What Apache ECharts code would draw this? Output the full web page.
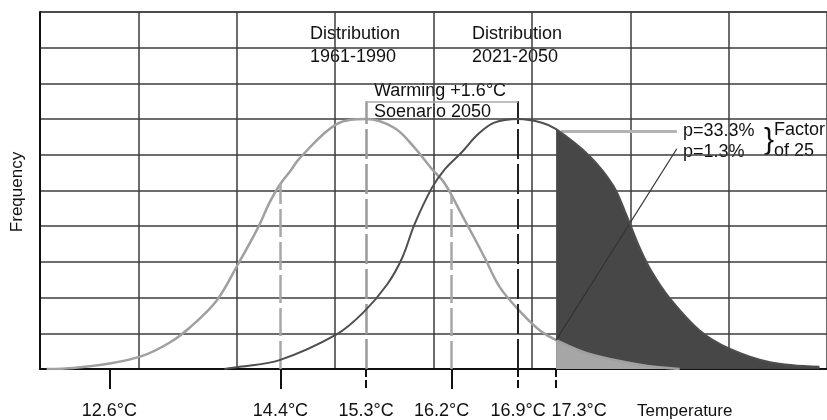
<!DOCTYPE html>
<html>
<head>
<meta charset="utf-8">
<script src="https://cdn.jsdelivr.net/npm/echarts@6/dist/echarts.min.js"></script>
<style>
html,body{margin:0;padding:0;background:#fff;}
#chart{width:827px;height:420px;}
</style>
</head>
<body>
<div id="chart"></div>
<script>
// ---- data ----
const lightT = [11.94, 12.22, 12.57, 12.94, 13.24, 13.45, 13.73, 13.95, 14.16, 14.29, 14.4, 14.5, 14.6, 14.99, 15.3, 15.6, 15.81, 15.99, 16.13, 16.31, 16.44, 16.55, 16.71, 16.95, 17.13, 17.3, 17.65, 18.18, 18.6];
const lightV = [0, 0.03, 0.14, 0.36, 0.75, 1.17, 1.92, 2.92, 3.94, 4.69, 5.19, 5.53, 5.9, 6.86, 7.0, 6.75, 6.2, 5.61, 5.19, 4.31, 3.67, 3.11, 2.28, 1.53, 1.08, 0.81, 0.42, 0.12, 0];
const darkT = [13.81, 13.97, 14.39, 14.99, 15.27, 15.52, 15.68, 15.81, 15.99, 16.13, 16.31, 16.48, 16.65, 16.9, 17.15, 17.3, 17.65, 17.9, 18.04, 18.18, 18.3, 18.49, 18.81, 19.13, 19.55, 20.07];
const darkV = [0, 0.06, 0.25, 0.97, 1.58, 2.36, 3.11, 4.05, 5.06, 5.6, 6.08, 6.58, 6.9, 7.0, 6.9, 6.72, 5.97, 5.14, 4.31, 3.39, 2.75, 2.0, 1.08, 0.56, 0.19, 0.06];
const tickTemps = [12.6, 14.4, 15.3, 16.2, 16.9, 17.3];
const solidTicks = [12.6, 14.4, 16.2];
const dashedTicks = [15.3, 16.9, 17.3];
const meanOld = 15.3, meanNew = 16.9, threshold = 17.3;
const guideTemps = [14.4, 16.2];

// ---- layout constants (not data) ----
const L = { xMin: 11.87, xMax: 20.15, yMax: 10, bracketTop: 7.5, calloutT: 18.57, calloutLow: 6.17 };
const FONT = '"Liberation Sans", Arial, Helvetica, sans-serif';

function pairs(T, V) { return T.map((t, i) => [t, V[i]]); }
function interp(T, V, t) {
  for (let i = 0; i < T.length - 1; i++) {
    if (t >= T[i] && t <= T[i + 1]) {
      const f = (t - T[i]) / (T[i + 1] - T[i]);
      return V[i] + f * (V[i + 1] - V[i]);
    }
  }
  return 0;
}
const lightData = pairs(lightT, lightV);
const darkData = pairs(darkT, darkV);
const darkTail = darkData.filter(p => p[0] >= threshold);
const lightTail = lightData.filter(p => p[0] >= threshold);

const darkAtThr = interp(darkT, darkV, threshold);
const lightAtThr = interp(lightT, lightV, threshold);

function seg(a, b, style) {
  return [{ coord: a, lineStyle: style }, { coord: b }];
}
const guideStyle = { color: '#a8a8a8', width: 2.5, type: [28, 5] };

const markLines = [];
guideTemps.forEach(t => markLines.push(seg([t, 0], [t, interp(lightT, lightV, t)], guideStyle)));
markLines.push(seg([meanOld, 0], [meanOld, L.bracketTop], { color: '#9a9a9a', width: 2.5, type: [30, 5] }));
markLines.push(seg([meanNew, 0], [meanNew, L.bracketTop], { color: '#222', width: 2, type: [30, 5] }));
markLines.push(seg([meanOld, L.bracketTop], [meanNew, L.bracketTop], { color: '#aaa', width: 1.5, type: 'solid' }));
markLines.push(seg([threshold + 0.05, darkAtThr - 0.05], [L.calloutT, darkAtThr - 0.05], { color: '#b3b3b3', width: 3, type: 'solid' }));
markLines.push(seg([threshold, lightAtThr], [L.calloutT, L.calloutLow], { color: '#333', width: 1.2, type: 'solid' }));

const splitColors = [];
for (let i = 0; i <= L.yMax; i++) splitColors.push(i === L.yMax ? '#111' : '#3c3c3c');

const SMOOTH = 0.35;

const chart = echarts.init(document.getElementById('chart'));
chart.setOption({
  animation: false,
  backgroundColor: '#fff',
  grid: { left: 40, right: 0, top: 12, bottom: 48 },
  xAxis: [
    {
      type: 'value', min: L.xMin, max: L.xMax, position: 'bottom',
      axisLine: { show: true, onZero: false, lineStyle: { color: '#111', width: 2 } },
      axisTick: { show: true, inside: false, length: 20, customValues: solidTicks, lineStyle: { color: '#111', width: 2 } },
      axisLabel: {
        show: true, customValues: tickTemps, margin: 33, color: '#111', fontSize: 18, fontFamily: FONT,
        formatter: function (v) {
          const s = v.toFixed(1) + '°C';
          if (Math.abs(v - 17.3) < 1e-6) return '{r|' + s + '}';
          if (Math.abs(v - 16.2) < 1e-6) return '{l|' + s + '}';
          return s;
        },
        rich: {
          r: { fontSize: 18, fontFamily: FONT, color: '#111', padding: [0, 0, 0, 46] },
          l: { fontSize: 18, fontFamily: FONT, color: '#111', padding: [0, 20, 0, 0] }
        }
      },
      splitLine: { show: false }
    },
    {
      type: 'value', min: L.xMin, max: L.xMax, position: 'bottom',
      axisLine: { show: false },
      axisTick: { show: true, inside: false, length: 20, customValues: dashedTicks, lineStyle: { color: '#111', width: 2, type: [8, 3] } },
      axisLabel: { show: false },
      splitLine: { show: false }
    },
    {
      type: 'value', min: 0, max: 8, interval: 1, position: 'bottom',
      axisLine: { show: false }, axisTick: { show: false }, axisLabel: { show: false },
      splitLine: { show: true, lineStyle: { color: '#3c3c3c', width: 1.5 } }
    }
  ],
  yAxis: {
    type: 'value', min: 0, max: L.yMax, interval: 1,
    axisLine: { show: true, lineStyle: { color: '#111', width: 2 } },
    axisTick: { show: false }, axisLabel: { show: false },
    splitLine: { show: true, lineStyle: { color: splitColors, width: 1.5 } }
  },
  series: [
    {
      name: 'fillDark', type: 'line', data: darkTail, smooth: SMOOTH, symbol: 'none', z: 2,
      lineStyle: { width: 0 }, areaStyle: { color: '#474747', opacity: 1 }
    },
    {
      name: 'fillLight', type: 'line', data: lightTail, smooth: SMOOTH, symbol: 'none', z: 3,
      lineStyle: { width: 0 }, areaStyle: { color: '#a6a6a6', opacity: 1 }
    },
    {
      name: '1961-1990', type: 'line', data: lightData, smooth: SMOOTH, symbol: 'none', z: 4,
      lineStyle: { color: '#a0a0a0', width: 2.5 }
    },
    {
      name: '2021-2050', type: 'line', data: darkData, smooth: SMOOTH, symbol: 'none', z: 5,
      lineStyle: { color: '#4e4e4e', width: 2 },
      markLine: { silent: true, symbol: ['none', 'none'], label: { show: false }, animation: false, data: markLines }
    }
  ],
  graphic: [
    { type: 'text', left: 310, top: 25, style: { text: 'Distribution', font: '18px ' + FONT, fill: '#111' } },
    { type: 'text', left: 310, top: 48, style: { text: '1961-1990', font: '18px ' + FONT, fill: '#111' } },
    { type: 'text', left: 472, top: 25, style: { text: 'Distribution', font: '18px ' + FONT, fill: '#111' } },
    { type: 'text', left: 472, top: 48, style: { text: '2021-2050', font: '18px ' + FONT, fill: '#111' } },
    { type: 'text', left: 374, top: 82, style: { text: 'Warming +1.6°C', font: '18px ' + FONT, fill: '#111' } },
    { type: 'text', left: 374, top: 103, style: { text: 'Soenario 2050', font: '18px ' + FONT, fill: '#111' } },
    { type: 'text', left: 683, top: 122, style: { text: 'p=33.3%', font: '18px ' + FONT, fill: '#111' } },
    { type: 'text', left: 683, top: 143, style: { text: 'p=1.3%', font: '18px ' + FONT, fill: '#111' } },
    { type: 'text', left: 764, top: 126, style: { text: '}', font: '30px ' + FONT, fill: '#111' } },
    { type: 'text', left: 774, top: 121, style: { text: 'Factor', font: '18px ' + FONT, fill: '#111' } },
    { type: 'text', left: 774, top: 142, style: { text: 'of 25', font: '18px ' + FONT, fill: '#111' } },
    { type: 'text', left: 637, top: 403, style: { text: 'Temperature', font: '17px ' + FONT, fill: '#111' } },
    { type: 'text', x: 17, y: 192, rotation: Math.PI / 2, style: { text: 'Frequency', font: '17px ' + FONT, fill: '#111', align: 'center', verticalAlign: 'middle' } }
  ]
});
</script>
</body>
</html>
